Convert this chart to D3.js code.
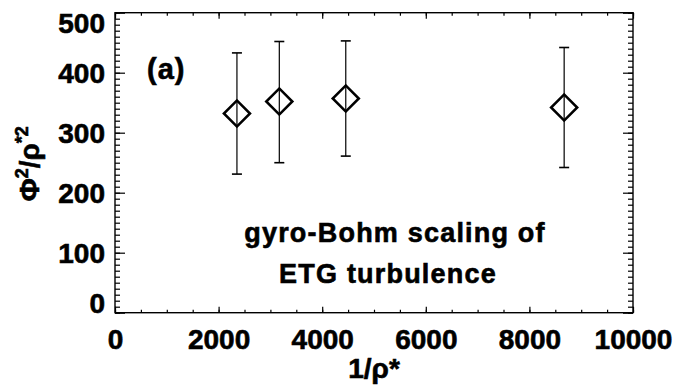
<!DOCTYPE html>
<html>
<head>
<meta charset="utf-8">
<script src="https://cdn.jsdelivr.net/npm/d3@7"></script>
<style>
  body { margin: 0; background: #fff; }
  svg text { font-family: "Liberation Sans", Arial, sans-serif; font-weight: bold; fill: #000; stroke: #000; stroke-width: 0.6px; }
</style>
</head>
<body>
<div id="chart"></div>
<script>
// data
var invRho  = [2354, 3172, 4455, 8671];
var phi2    = [332, 352, 357, 342];
var phi2Hi  = [433, 452, 453, 442];
var phi2Lo  = [231, 250, 261, 242];

var xTicks = [0, 2000, 4000, 6000, 8000, 10000];
var yTicks = [0, 100, 200, 300, 400, 500];
var xMinor = d3.range(0, 10001, 500);
var yMinor = d3.range(0, 501, 10);

var W = 673, H = 386;
var margin = { top: 12.7, right: 40, bottom: 73.3, left: 115 };
var width = W - margin.left - margin.right,
    height = H - margin.top - margin.bottom;

var svg = d3.select("#chart").append("svg")
  .attr("width", W)
  .attr("height", H);

var g = svg.append("g")
  .attr("transform", "translate(" + margin.left + "," + margin.top + ")");

var x = d3.scaleLinear().domain([0, 10000]).range([0, width]);
var y = d3.scaleLinear().domain([0, 500]).range([height, 0]);

// ticks point inward on all four sides
function tickAxis(axis, cls, tr) {
  var a = g.append("g").attr("class", cls).attr("transform", tr || null).call(axis);
  a.select(".domain").remove();
  a.selectAll(".tick line").attr("stroke", "#000").attr("stroke-width", 1.2);
  return a;
}

tickAxis(d3.axisLeft(y).tickValues(yMinor).tickSize(-5).tickFormat(""), "ymin");
tickAxis(d3.axisRight(y).tickValues(yMinor).tickSize(-5).tickFormat(""), "ymin-r", "translate(" + width + ",0)");
tickAxis(d3.axisRight(y).tickValues(yTicks).tickSize(-10).tickFormat(""), "ymaj-r", "translate(" + width + ",0)");
tickAxis(d3.axisBottom(x).tickValues(xMinor).tickSize(-3).tickFormat(""), "xmin", "translate(0," + height + ")");
tickAxis(d3.axisTop(x).tickValues(xMinor).tickSize(-3).tickFormat(""), "xmin-t");
tickAxis(d3.axisTop(x).tickValues(xTicks).tickSize(-6).tickFormat(""), "xmaj-t");

var yAx = tickAxis(d3.axisLeft(y).tickValues(yTicks).tickSize(-10).tickPadding(10).tickFormat(d3.format("d")), "yaxis");
yAx.selectAll("text")
  .attr("font-size", 28)
  .attr("dy", null)
  .attr("y", function(d) {
    // end labels are pulled inside the frame like in the original
    return Math.max(Math.min(9.5, height - y(d)), 19.5 - y(d));
  });

var xAx = tickAxis(d3.axisBottom(x).tickValues(xTicks).tickSize(-6).tickPadding(0).tickFormat(d3.format("d")), "xaxis", "translate(0," + height + ")");
xAx.selectAll("text")
  .attr("font-size", 28)
  .attr("dy", null)
  .attr("y", 36.5);

// frame
g.append("rect")
  .attr("width", width)
  .attr("height", height)
  .attr("fill", "none")
  .attr("stroke", "#000")
  .attr("stroke-width", 1.4);

// error bars
var pts = invRho.map(function(d, i) {
  return { x: d, y: phi2[i], hi: phi2Hi[i], lo: phi2Lo[i] };
});

var eb = g.selectAll(".err").data(pts).enter().append("g").attr("class", "err")
  .attr("stroke", "#000").attr("stroke-width", 1.2);
eb.append("line")
  .attr("x1", function(d) { return x(d.x); }).attr("x2", function(d) { return x(d.x); })
  .attr("y1", function(d) { return y(d.hi); }).attr("y2", function(d) { return y(d.lo); });
eb.append("line")
  .attr("stroke-width", 1.6)
  .attr("x1", function(d) { return x(d.x) - 5; }).attr("x2", function(d) { return x(d.x) + 5; })
  .attr("y1", function(d) { return y(d.hi); }).attr("y2", function(d) { return y(d.hi); });
eb.append("line")
  .attr("stroke-width", 1.6)
  .attr("x1", function(d) { return x(d.x) - 5; }).attr("x2", function(d) { return x(d.x) + 5; })
  .attr("y1", function(d) { return y(d.lo); }).attr("y2", function(d) { return y(d.lo); });

// diamonds
g.selectAll(".pt").data(pts).enter().append("path")
  .attr("class", "pt")
  .attr("d", d3.symbol(d3.symbolSquare, 338))
  .attr("transform", function(d) { return "translate(" + x(d.x) + "," + y(d.y) + ") rotate(45)"; })
  .attr("fill", "none")
  .attr("stroke", "#000")
  .attr("stroke-width", 2.6);

// annotations
svg.append("text")
  .attr("x", 147).attr("y", 78.5)
  .attr("font-size", 29)
  .attr("letter-spacing", 1)
  .text("(a)");

svg.append("text")
  .attr("x", 395).attr("y", 241.7)
  .attr("text-anchor", "middle")
  .attr("font-size", 27)
  .attr("letter-spacing", 1.2)
  .text("gyro-Bohm scaling of");

svg.append("text")
  .attr("x", 388).attr("y", 283.3)
  .attr("text-anchor", "middle")
  .attr("font-size", 27)
  .attr("letter-spacing", 1.2)
  .text("ETG turbulence");

// axis titles
svg.append("text")
  .attr("x", margin.left + width / 2).attr("y", 378)
  .attr("text-anchor", "middle")
  .attr("font-size", 28)
  .text("1/ρ*");

var yt = svg.append("text")
  .attr("transform", "translate(39," + (margin.top + height / 2 + 1) + ") rotate(-90)")
  .attr("text-anchor", "middle")
  .attr("font-size", 28);
yt.append("tspan").text("Φ");
yt.append("tspan").attr("font-size", 18).attr("dy", -11).text("2");
yt.append("tspan").attr("dy", 11).text("/ρ");
yt.append("tspan").attr("font-size", 18).attr("dy", -11).text("*2");
</script>
</body>
</html>
